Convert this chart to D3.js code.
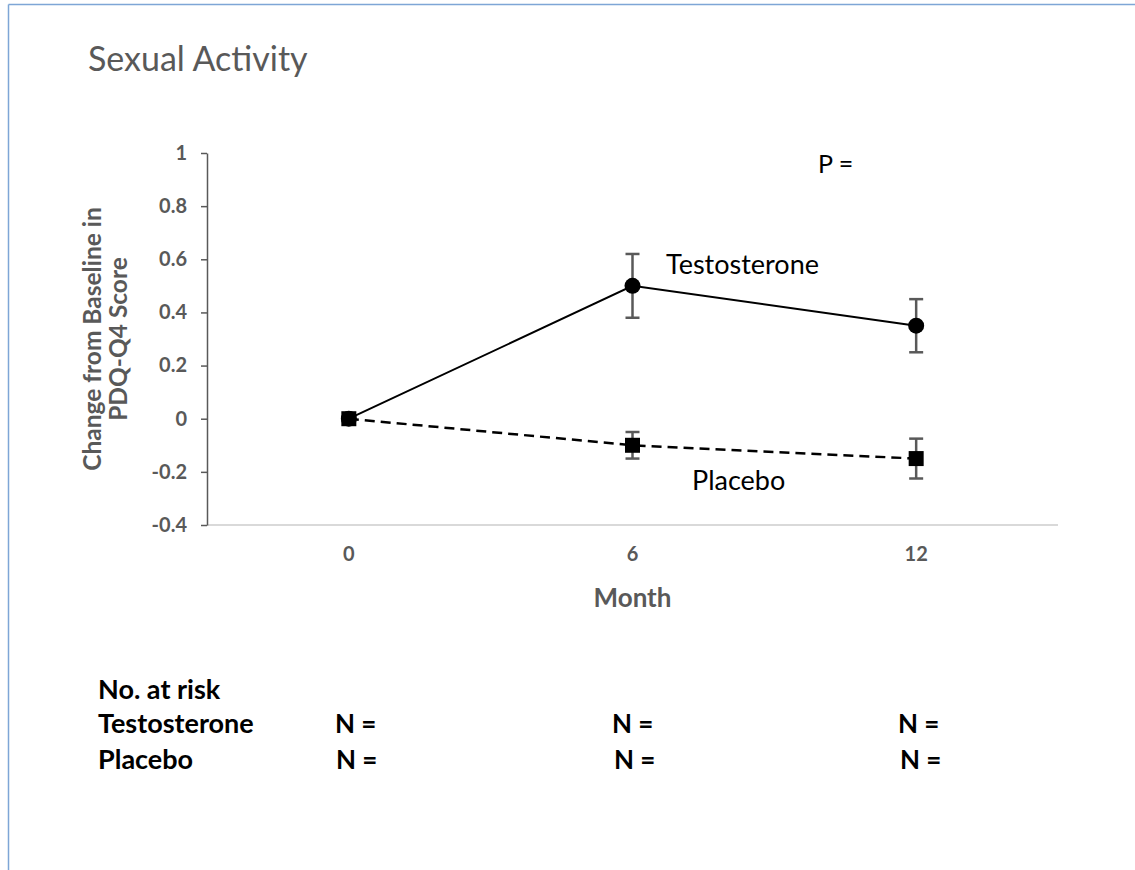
<!DOCTYPE html>
<html><head><meta charset="utf-8">
<script src="https://cdn.jsdelivr.net/npm/d3@7"></script>
<style>body{margin:0;background:#fff}svg{display:block}</style>
</head><body>
<svg id="c" width="1135" height="870"></svg>
<script>
const months = ["0", "6", "12"];
const testoMean = [0, 0.5, 0.35];
const testoErr = [0, 0.12, 0.10];
const placeboMean = [0, -0.1, -0.15];
const placeboErr = [0, 0.05, 0.075];
const yTicks = [-0.4, -0.2, 0, 0.2, 0.4, 0.6, 0.8, 1];
const riskRows = ["Testosterone", "Placebo"];
const riskLabels = [["N =", "N =", "N ="], ["N =", "N =", "N ="]];

const svg = d3.select("#c");
const F = "Lato, 'Open Sans', sans-serif";
const gray = "#595959";

// frame
svg.append("line").attr("x1", 8.5).attr("x2", 1135).attr("y1", 4.5).attr("y2", 4.5).attr("stroke", "#7ea6d6").attr("stroke-width", 1.5);
svg.append("line").attr("x1", 8.5).attr("x2", 8.5).attr("y1", 4.5).attr("y2", 870).attr("stroke", "#7ea6d6").attr("stroke-width", 1.5);

svg.append("text").attr("x", 88).attr("y", 71).attr("font-family", F).attr("font-size", 34).attr("fill", gray).text("Sexual Activity");

const x = d3.scaleBand().domain(months).range([207, 1058]);
const y = d3.scaleLinear().domain([-0.4, 1]).range([525, 153]);
const cx = m => x(m) + x.bandwidth() / 2;

// x axis line
svg.append("line").attr("x1", 207).attr("x2", 1058).attr("y1", y(-0.4)).attr("y2", y(-0.4)).attr("stroke", "#d9d9d9").attr("stroke-width", 2);
const xa = svg.append("g").attr("transform", `translate(0,${y(-0.4)})`).call(d3.axisBottom(x).tickSize(0).tickPadding(22));
xa.select(".domain").remove();
xa.selectAll("text").attr("font-family", F).attr("font-size", 20).attr("font-weight", "bold").attr("fill", gray);

// y axis
const ya = svg.append("g").attr("transform", "translate(207,0)")
  .call(d3.axisLeft(y).tickValues(yTicks).tickSize(6).tickSizeOuter(0).tickPadding(14).tickFormat(d => String(+d.toFixed(1))));
ya.select(".domain").attr("stroke", gray).attr("stroke-width", 1.5);
ya.selectAll(".tick line").attr("stroke", gray).attr("stroke-width", 1.5);
ya.selectAll("text").attr("font-family", F).attr("font-size", 20).attr("font-weight", "bold").attr("fill", gray);

// y label
const yl = svg.append("text").attr("transform", "translate(101,339) rotate(-90)").attr("text-anchor", "middle")
  .attr("font-family", F).attr("font-size", 24.5).attr("font-weight", "bold").attr("fill", gray);
yl.append("tspan").attr("x", 0).attr("dy", 0).text("Change from Baseline in");
yl.append("tspan").attr("x", 0).attr("dy", 26).text("PDQ-Q4 Score");

svg.append("text").attr("x", cx("6")).attr("y", 607).attr("text-anchor", "middle").attr("font-family", F)
  .attr("font-size", 26).attr("font-weight", "bold").attr("fill", gray).text("Month");

// lines
const line = d3.line().x((d, i) => cx(months[i])).y(d => y(d));
svg.append("path").attr("d", line(placeboMean)).attr("fill", "none").attr("stroke", "#000").attr("stroke-width", 2.5).attr("stroke-dasharray", "10,6");
svg.append("path").attr("d", line(testoMean)).attr("fill", "none").attr("stroke", "#000").attr("stroke-width", 2);

function errbars(mean, err) {
  mean.forEach((m, i) => {
    if (!err[i]) return;
    const xx = cx(months[i]);
    const g = svg.append("g").attr("stroke", gray).attr("stroke-width", 2.5);
    g.append("line").attr("x1", xx).attr("x2", xx).attr("y1", y(m + err[i])).attr("y2", y(m - err[i]));
    g.append("line").attr("x1", xx - 7).attr("x2", xx + 7).attr("y1", y(m + err[i])).attr("y2", y(m + err[i]));
    g.append("line").attr("x1", xx - 7).attr("x2", xx + 7).attr("y1", y(m - err[i])).attr("y2", y(m - err[i]));
  });
}
errbars(testoMean, testoErr);
errbars(placeboMean, placeboErr);

svg.selectAll(".tm").data(testoMean).enter().append("circle")
  .attr("cx", (d, i) => cx(months[i])).attr("cy", d => y(d)).attr("r", 8).attr("fill", "#000");
svg.selectAll(".pm").data(placeboMean).enter().append("rect")
  .attr("x", (d, i) => cx(months[i]) - 7.5).attr("y", d => y(d) - 7.5).attr("width", 15).attr("height", 15).attr("fill", "#000");

// annotations
svg.append("text").attr("x", 666).attr("y", 274).attr("font-family", F).attr("font-size", 27).attr("fill", "#000").text("Testosterone");
svg.append("text").attr("x", 692).attr("y", 490).attr("font-family", F).attr("font-size", 27).attr("fill", "#000").text("Placebo");
svg.append("text").attr("x", 818).attr("y", 173).attr("font-family", F).attr("font-size", 25).attr("fill", "#000").text("P =");

// at risk
svg.append("text").attr("x", 98).attr("y", 699).attr("font-family", F).attr("font-size", 27).attr("font-weight", "bold").attr("fill", "#000").text("No. at risk");
const nx = [[335, 612, 898], [336, 614, 900]];
riskRows.forEach((r, ri) => {
  const yy = 733 + ri * 36;
  svg.append("text").attr("x", 98).attr("y", yy).attr("font-family", F).attr("font-size", 27).attr("font-weight", "bold").attr("fill", "#000").text(r);
  riskLabels[ri].forEach((t, ci) => {
    svg.append("text").attr("x", nx[ri][ci]).attr("y", yy).attr("font-family", F).attr("font-size", 26).attr("font-weight", "bold").attr("fill", "#000").text(t);
  });
});
</script>
</body></html>
